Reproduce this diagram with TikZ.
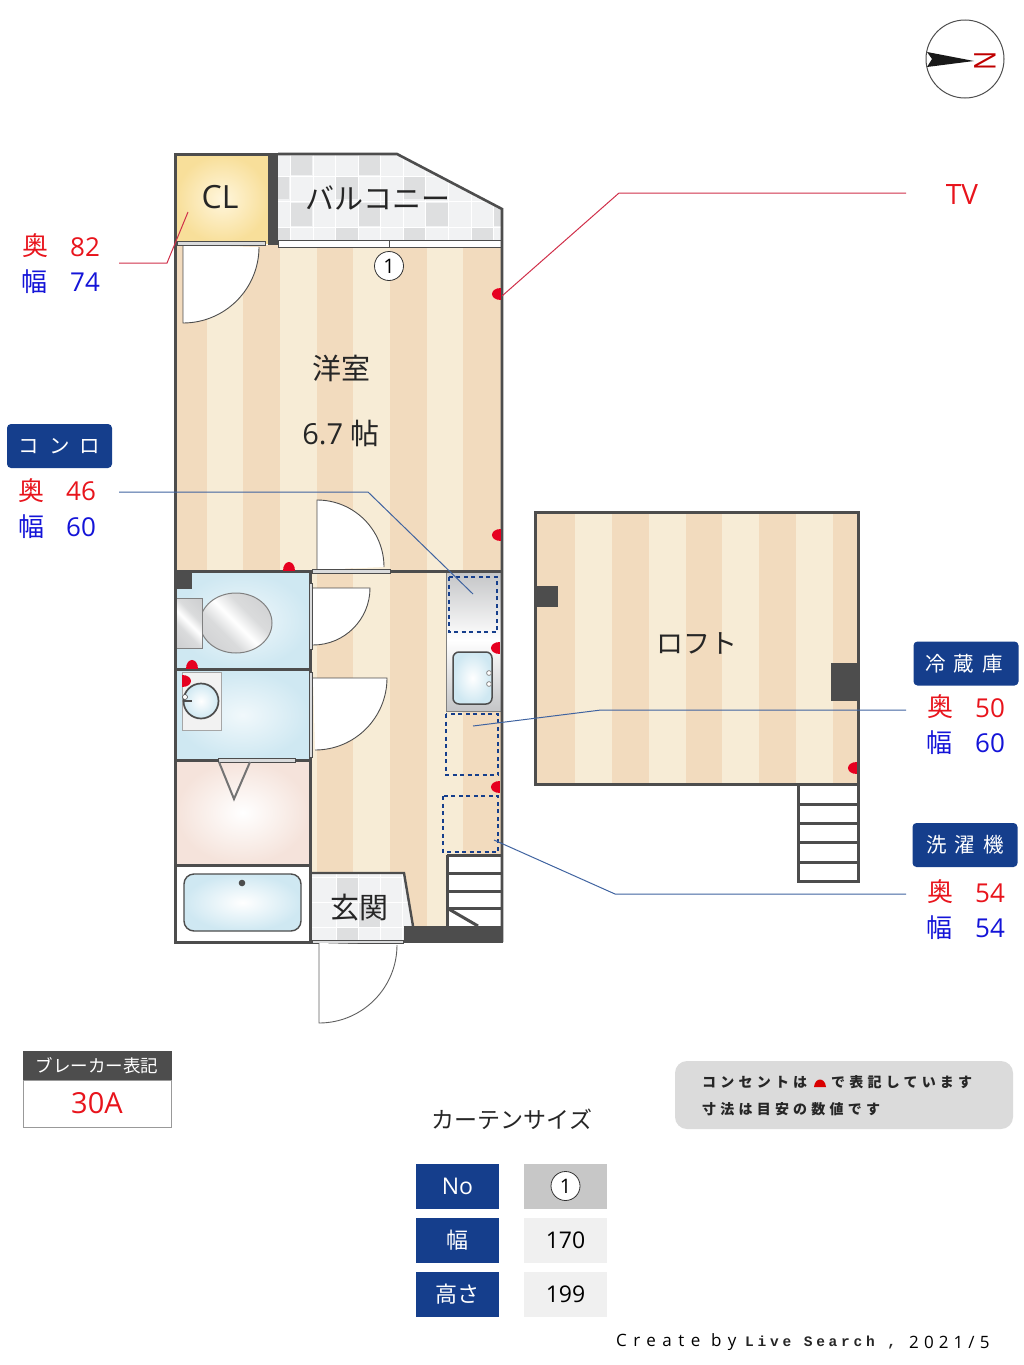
\documentclass[tikz,border=0pt]{standalone}
\usepackage{fontspec}
\setmainfont{Open Sans}
\newfontfamily\jp{Noto Sans CJK JP}
\newfontfamily\jpsp[LetterSpace=30]{Noto Sans CJK JP}
\newfontfamily\credA[LetterSpace=38]{Open Sans}
\newfontfamily\credC[LetterSpace=30]{Open Sans}
\newfontfamily\credB[LetterSpace=26]{Liberation Mono}
\usetikzlibrary{shapes.geometric}
\definecolor{wall}{HTML}{4D4D4D}
\definecolor{tan}{HTML}{F2DBBE}
\definecolor{cream}{HTML}{F7ECD6}
\definecolor{navy}{HTML}{153E8C}
\definecolor{leadb}{HTML}{3F63A0}
\definecolor{leadr}{HTML}{D0304A}
\definecolor{outlet}{HTML}{E60020}
\definecolor{tileA}{HTML}{F1F2F3}
\definecolor{tileB}{HTML}{DEDFE0}
\definecolor{paleblue}{HTML}{CFE8F2}
\definecolor{silverA}{HTML}{C4C5C7}
\definecolor{silverB}{HTML}{DADBDC}
\definecolor{rednum}{HTML}{E8141C}
\definecolor{bluenum}{HTML}{1414D8}
\definecolor{clin}{HTML}{FFF6DC}
\definecolor{clout}{HTML}{F8DF9A}
\definecolor{pinkout}{HTML}{F5E3DB}
\pgfdeclarehorizontalshading{silver}{100bp}{color(0bp)=(silverA);color(38bp)=(silverB);color(50bp)=(white);color(62bp)=(silverB);color(100bp)=(silverA)}
\newcommand\leftout[2]{\fill[outlet] (#1,#2-6) .. controls (#1-12,#2-6) and (#1-12,#2+6) .. (#1,#2+6) -- cycle;}
\newcommand\rightout[2]{\fill[outlet] (#1,#2-6) .. controls (#1+12,#2-6) and (#1+12,#2+6) .. (#1,#2+6) -- cycle;}
\newcommand\upout[2]{\fill[outlet] (#1-6,#2) .. controls (#1-6,#2-12) and (#1+6,#2-12) .. (#1+6,#2) -- cycle;}
\newcommand\stripes[4]{\foreach \xa/\xb/\cc in {#1}{\fill[\cc] (\xa,#2) rectangle (\xb,#3);}}
\tikzset{
  wallline/.style={draw=wall,line width=3pt},
  thinwall/.style={draw=wall,line width=2.4pt},
  doorleaf/.style={fill=white,draw=wall,line width=0.9pt},
  sash/.style={fill=silverB,draw=wall,line width=0.8pt},
  leadblue/.style={draw=leadb,line width=1pt},
  leadred/.style={draw=leadr,line width=1pt},
  dashbox/.style={draw=navy,line width=1.2pt,dash pattern=on 4pt off 3.5pt},
  title/.style={font=\jp\fontsize{29}{29}\selectfont,text=black!85,inner sep=0pt},
  kan/.style={font=\jp\fontsize{26}{26}\selectfont,inner sep=0pt},
  num/.style={font=\fontsize{26}{26}\selectfont,inner sep=0pt},
  badge/.style={fill=navy,rounded corners=4pt,text=white,font=\jp\fontsize{20.5}{21}\selectfont,inner sep=0pt,minimum width=105pt,minimum height=44pt},
  cell/.style={inner sep=0pt,minimum width=83pt,minimum height=45pt,font=\fontsize{23}{23}\selectfont},
  notetext/.style={font=\jpsp\bfseries\fontsize{14}{14}\selectfont,text=black!85,inner sep=0pt,anchor=west},
  callno/.style={circle,draw=black!80,fill=white,line width=0.8pt,minimum size=29pt,inner sep=0pt,font=\fontsize{20}{20}\selectfont},
}
\begin{document}
\begin{tikzpicture}[x=1pt,y=-1pt]
\useasboundingbox (0,0) rectangle (1024,1365);
% wood floor main room and hall
\fill[tan] (176,245) rectangle (501,930);
\stripes{207/243/cream,280/317/cream,353/390/cream,427/463/cream}{245}{930}{}
% closet
\shade[inner color=clin,outer color=clout] (176,155) rectangle (268,243);
\fill[wall] (268,154) rectangle (278,245);
% balcony tiles
\begin{scope}
\clip (278,155) -- (397,155) -- (501,210) -- (501,240) -- (278,240) -- cycle;
\fill[tileA] (278,155) rectangle (501,240);
\foreach \xa/\ya/\xb/\yb in {290/156/312/175,358/156/380/175,403/176/425/199,290/203/312/226,358/203/380/226,425/203/448/226,493/203/501/226,278/228/290/240,335/228/358/240,403/228/425/240,471/228/493/240,278/176/289/199,335/176/358/199}
  \fill[tileB] (\xa,\ya) rectangle (\xb,\yb);
\foreach \gx in {290,313,335,358,380,403,425,448,471,493} \draw[white,line width=1pt] (\gx,155) -- (\gx,240);
\foreach \gy in {176,201,227} \draw[white,line width=1pt] (278,\gy) -- (501,\gy);
\end{scope}
% balcony sash
\draw[fill=white,draw=wall,line width=0.9pt] (278,240) rectangle (501,247);
\draw[draw=wall,line width=0.9pt] (389,240) -- (389,247);
\node[callno] (callone) at (389,266) {1};
% closet sash and door
\fill[doorleaf,draw=none] (183,245) -- (183,323) arc[start angle=90,end angle=0,radius=76] -- cycle;
\draw[wall,line width=0.9pt] (183,245) -- (183,323) arc[start angle=90,end angle=0,radius=76];
\draw[sash] (177,241) rectangle (265,245);
% room door
\fill[white] (317,570) -- (317,500) arc[start angle=-90,end angle=0,radius=67] -- cycle;
\draw[wall,line width=0.9pt] (317,570) -- (317,500) arc[start angle=-90,end angle=0,radius=67];
% toilet room
\shade[inner color=white!70!paleblue,outer color=paleblue] (176,573) rectangle (309,668);
\fill[wall] (176,572) rectangle (192,589);
\draw[draw=gray,line width=1pt,shading=silver,shading angle=45] (236,623) ellipse [x radius=36,y radius=30];
\draw[draw=gray,line width=1pt,shading=silver,shading angle=45] (176,598) rectangle (202,648);
% wash room
\shade[inner color=white!70!paleblue,outer color=paleblue] (176,671) rectangle (309,759);
\draw[fill=black!5,draw=gray!70,line width=0.8pt] (182,672) rectangle (221,730);
\draw[gray!70,line width=0.8pt] (182,672) -- (182,730);
\shade[inner color=white,outer color=paleblue,draw=wall,line width=1.7pt] (201,701) circle [radius=17.5];
\draw[wall,line width=1.3pt] (183,701) -- (192,701);
\draw[fill=white,draw=wall,line width=0.6pt] (185,697) circle [radius=2.5];
% dressing room
\shade[inner color=white,outer color=pinkout] (176,761) rectangle (309,864);
% bath
\fill[white] (176,866) rectangle (309,940);
\shade[inner color=white,outer color=paleblue,draw=wall,line width=1.4pt,rounded corners=10pt] (184,874) rectangle (301,931);
\fill[wall] (242,883) circle [radius=3.3];
% kitchen
\fill[white] (446,572) rectangle (501,711);
\shade[top color=silverA,bottom color=white] (446,572) rectangle (501,640);
\shade[top color=white,bottom color=silverA] (446,640) rectangle (501,711);
\draw[gray,line width=1pt] (446,572) -- (446,711) -- (501,711);
\draw[dashbox] (449,577) rectangle (497,632);
\shade[inner color=white,outer color=paleblue,draw=wall,line width=1.5pt,rounded corners=6pt] (453,652) rectangle (492,704);
\draw[fill=white,draw=gray,line width=0.7pt] (489,673) circle [radius=2.4];
\draw[fill=white,draw=gray,line width=0.7pt] (489,684) circle [radius=2.4];
% appliances
\draw[dashbox] (446,714) rectangle (498,775);
\draw[dashbox] (443,796) rectangle (498,852);
% stairs
\fill[white] (447,855) rectangle (502,926);
\foreach \sy in {855,873,891,908} \draw[wallline] (447,\sy) -- (502,\sy);
\draw[wallline] (447,855) -- (447,926);
\draw[wallline] (447,908) -- (478,926);
% genkan
\begin{scope}
\clip (312,873) -- (404,873) -- (413,926) -- (404,926) -- (404,940) -- (312,940) -- cycle;
\fill[tileA] (312,873) rectangle (414,940);
\foreach \xa/\ya/\xb/\yb in {336/877/358/901,358/903/380/927,336/928/358/940}
  \fill[tileB] (\xa,\ya) rectangle (\xb,\yb);
\foreach \gx in {336,358,380,402} \draw[white,line width=1pt] (\gx,873) -- (\gx,940);
\foreach \gy in {877,902,927} \draw[white,line width=1pt] (312,\gy) -- (414,\gy);
\end{scope}
\draw[thinwall] (312,873) -- (404,873) -- (413,926);
\fill[wall] (404,926) rectangle (503,943);
% walls
\draw[wallline] (278,154) -- (175,154) -- (175,942) -- (404,942);
\draw[draw=wall,line width=2.6pt] (278,154) -- (397,154) -- (502,209) -- (502,942);
\draw[wallline] (175,571) -- (312,571);
\draw[wallline] (390,571) -- (502,571);
\draw[wallline] (175,669.5) -- (311,669.5);
\draw[wallline] (175,760) -- (311,760);
\draw[wallline] (175,865) -- (311,865);
\draw[wallline] (310.5,571) -- (310.5,942);
% sashes
\draw[sash] (312,569) rectangle (390,573);
\draw[sash] (218,758) rectangle (295,762);
\draw[sash] (309,583) rectangle (312,649);
\draw[sash] (309,672) rectangle (312,757);
\draw[sash] (312,940) rectangle (403,943);
% fold door
\draw[draw=gray!90!black,line width=2pt] (219,762) -- (234,799) -- (250,762);
% hall doors
\fill[white] (313,588) -- (370,588) arc[start angle=0,end angle=90,radius=57] -- cycle;
\draw[wall,line width=0.9pt] (313,588) -- (370,588) arc[start angle=0,end angle=90,radius=57];
\fill[white] (313,678) -- (387,678) arc[start angle=0,end angle=90,radius=72] -- cycle;
\draw[wall,line width=0.9pt] (313,678) -- (387,678) arc[start angle=0,end angle=90,radius=72];
% entrance door
\draw[fill=white,draw=wall!90,line width=0.9pt] (319,943) -- (319,1023) arc[start angle=90,end angle=0,radius=78] ;
% outlets
\leftout{501}{294}
\leftout{501}{535}
\upout{289}{571}
\upout{192}{669}
\rightout{182}{681}
\leftout{500}{648}
\leftout{500}{787}
% loft
\fill[tan] (535,512) rectangle (858,784);
\stripes{575/612/cream,649/686/cream,722/759/cream,796/833/cream}{512}{784}{}
\draw[wallline] (535,512) rectangle (858,784);
\fill[wall] (535,586) rectangle (558,607);
\fill[wall] (831,663) rectangle (858,701);
\leftout{857}{768}
\draw[wallline,fill=white] (798,784) rectangle (858,881);
\foreach \sy in {804,823,842,862} \draw[wallline] (798,\sy) -- (858,\sy);
% room titles
\node[inner sep=0pt,font=\fontsize{32}{32}\selectfont,text=black!85] (cl) at (220,197) {CL};
\node[title] (balcony) at (378,198) {バルコニー};
\node[title] (youshitsu) at (341,368) {洋室};
\node[title,font=\fontsize{29}{29}\selectfont] (size) at (341,433) {6.7 {\jp 帖}};
\node[title,font=\jp\fontsize{27}{27}\selectfont] (loft) at (697,643) {ロフト};
\node[title] (genkan) at (359,908) {玄関};
% compass
\node[circle,draw=wall,line width=1pt,minimum size=78pt,inner sep=0pt] (compass) at (965,59) {};
\fill[black!90] (927,52) -- (974,61) -- (927,67) -- (932,59) -- cycle;
\node[rotate=90,inner sep=0pt,text=red!75!black,font=\fontsize{30}{30}\selectfont] (north) at (985,60.5) {\scalebox{0.85}[1]{N}};
% label anchors
\node[kan,text=rednum] (okuA) at (35,246) {奥};
\node[num,text=rednum] (okuAn) at (85,247) {82};
\node[kan,text=bluenum] (habaA) at (34,282) {幅};
\node[num,text=bluenum] (habaAn) at (85,282) {74};
\node[badge] (konro) at (59.5,446) {コ\hspace{10pt}ン\hspace{10pt}ロ};
\node[kan,text=rednum] (okuB) at (32,491) {奥};
\node[num,text=rednum] (okuBn) at (81,491) {46};
\node[kan,text=bluenum] (habaB) at (31,527) {幅};
\node[num,text=bluenum] (habaBn) at (81,527) {60};
\node[inner sep=0pt,text=rednum,font=\fontsize{28}{28}\selectfont] (tv) at (962,195) {TV};
\node[badge] (fridge) at (966,663.5) {\hspace{-4pt}冷\hspace{8pt}蔵\hspace{8pt}庫};
\node[kan,text=rednum] (okuC) at (940,707) {奥};
\node[num,text=rednum] (okuCn) at (990,708) {50};
\node[kan,text=bluenum] (habaC) at (939,743) {幅};
\node[num,text=bluenum] (habaCn) at (990,743) {60};
\node[badge] (washer) at (965,845) {洗\hspace{8pt}濯\hspace{8pt}機};
\node[kan,text=rednum] (okuD) at (940,892) {奥};
\node[num,text=rednum] (okuDn) at (990,893) {54};
\node[kan,text=bluenum] (habaD) at (939,928) {幅};
\node[num,text=bluenum] (habaDn) at (990,928) {54};
% leaders
\coordinate (ra) at (119,263); \coordinate (rb) at (167,263); \coordinate (rc) at (188,212);
\draw[leadred] (ra) -- (rb) -- (rc);
\coordinate (ta) at (906,193); \coordinate (tb) at (619,193); \coordinate (tc) at (502,296);
\draw[leadred] (ta) -- (tb) -- (tc);
\coordinate (ka) at (119,492); \coordinate (kb) at (368,492); \coordinate (kc) at (473,594);
\draw[leadblue] (ka) -- (kb) -- (kc);
\coordinate (fa) at (906,710); \coordinate (fb) at (601,710); \coordinate (fc) at (473,726);
\draw[leadblue] (fa) -- (fb) -- (fc);
\coordinate (wa) at (906,894); \coordinate (wb) at (615,894); \coordinate (wc) at (494,840);
\draw[leadblue] (wa) -- (wb) -- (wc);
% breaker
\node[fill=wall,text=white,inner sep=0pt,minimum width=149pt,minimum height=30pt,font=\jp\fontsize{17.5}{18}\selectfont] (brhead) at (97,1065.5) {ブレーカー表記};
\node[draw=gray!80,fill=white,inner sep=0pt,minimum width=148pt,minimum height=47pt,text=rednum,font=\fontsize{29}{29}\selectfont] (brval) at (97,1103.5) {30A};
% note
\node[fill=black!14,rounded corners=12pt,minimum width=338pt,minimum height=68pt,inner sep=0pt] (note) at (844,1095) {};
\node[notetext] (noteA) at (702,1082) {コンセントは};
\fill[red!85!black] (814,1087) .. controls (815,1077) and (825,1077) .. (826,1087) -- cycle;
\node[notetext] (noteB) at (831,1082) {で表記しています};
\node[notetext] (noteC) at (702,1109) {寸法は目安の数値です};
% curtain table
\node[inner sep=0pt,font=\jp\fontsize{23}{23}\selectfont,text=black!85] (curt) at (512,1119) {カーテンサイズ};
\node[cell,fill=navy,text=white] (hno) at (457.5,1186) {No};
\node[cell,fill=navy,text=white,font=\jp\fontsize{22}{22}\selectfont] (hw) at (457.5,1240) {幅};
\node[cell,fill=navy,text=white,font=\jp\fontsize{22}{22}\selectfont] (hh) at (457.5,1294.5) {高さ};
\node[cell,fill=black!22] (vno) at (565.5,1186) {};
\node[callno] (vone) at (565.5,1186) {1};
\node[cell,fill=black!6] (vw) at (565.5,1240) {170};
\node[cell,fill=black!6] (vh) at (565.5,1294.5) {199};
% credit
\node[inner sep=0pt,anchor=west,font=\credA\fontsize{17}{18}\selectfont,text=black] (creditA) at (616,1342) {Create by};
\node[inner sep=0pt,anchor=west,font=\credB\bfseries\fontsize{14.5}{18}\selectfont,text=black!85] (creditB) at (745,1343) {Live Search ,};
\node[inner sep=0pt,anchor=west,font=\credC\fontsize{17}{18}\selectfont,text=black] (creditC) at (909,1342) {2021/5};
\end{tikzpicture}
\end{document}
